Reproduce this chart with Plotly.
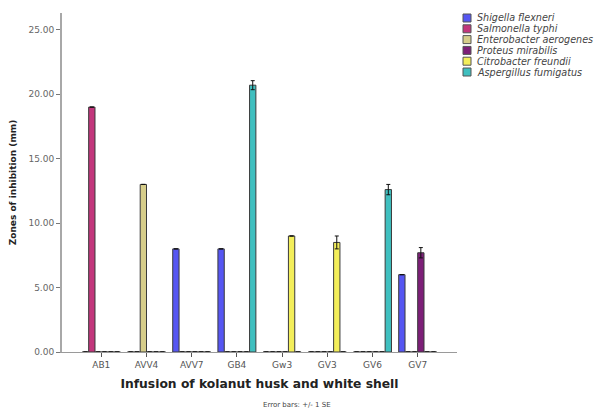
import plotly.graph_objects as go

# Treatment codes (infusions of kolanut husk and white shell)
categories = ["AB1", "AVV4", "AVV7", "GB4", "Gw3", "GV3", "GV6", "GV7"]

# Test organisms, in cluster order
organisms = [
    "Shigella flexneri",
    "Salmonella typhi",
    "Enterobacter aerogenes",
    "Proteus mirabilis",
    "Citrobacter freundii",
    "Aspergillus fumigatus",
]
colors = ["#5656f2", "#c2367c", "#d6cd8a", "#7d1f78", "#f3ee5a", "#3fbfbf"]

# Mean zone of inhibition (mm) per organism, one value per treatment
shigella = [0.0, 0.0, 8.0, 8.0, 0.0, 0.0, 0.0, 6.0]
salmonella = [19.0, 0.0, 0.0, 0.0, 0.0, 0.0, 0.0, 0.0]
enterobacter = [0.0, 13.0, 0.0, 0.0, 0.0, 0.0, 0.0, 0.0]
proteus = [0.0, 0.0, 0.0, 0.0, 0.0, 0.0, 0.0, 7.7]
citrobacter = [0.0, 0.0, 0.0, 0.0, 9.0, 8.5, 0.0, 0.0]
aspergillus = [0.0, 0.0, 0.0, 20.7, 0.0, 0.0, 12.6, 0.0]

# Standard errors (mm)
se_shigella = [0, 0, 0, 0, 0, 0, 0, 0]
se_salmonella = [0, 0, 0, 0, 0, 0, 0, 0]
se_enterobacter = [0, 0, 0, 0, 0, 0, 0, 0]
se_proteus = [0, 0, 0, 0, 0, 0, 0, 0.4]
se_citrobacter = [0, 0, 0, 0, 0, 0.5, 0, 0]
se_aspergillus = [0, 0, 0, 0.35, 0, 0, 0.4, 0]

y_ticks = [0, 5, 10, 15, 20, 25]

means = [shigella, salmonella, enterobacter, proteus, citrobacter, aspergillus]
errors = [se_shigella, se_salmonella, se_enterobacter, se_proteus, se_citrobacter, se_aspergillus]

FONT = "DejaVu Sans, Verdana, sans-serif"

fig = go.Figure()
for name, col, vals, se in zip(organisms, colors, means, errors):
    fig.add_trace(go.Bar(
        name=name,
        x=categories,
        y=vals,
        marker=dict(color=col, line=dict(color="#3a3a3a", width=1)),
        error_y=dict(
            type="data",
            array=[e if e > 0 else None for e in se],
            visible=True,
            color="#111111",
            thickness=1,
            width=2,
        ),
        showlegend=False,
    ))

# Legend: colour swatch + italic organism name, stacked in the right margin
leg_x0, leg_y0, leg_dy = 463, 18, 10.8
for i, (name, col) in enumerate(zip(organisms, colors)):
    yc = leg_y0 + i * leg_dy
    fig.add_shape(
        type="rect", xref="paper", yref="paper",
        x0=(leg_x0 - 62) / 395, x1=(leg_x0 + 8 - 62) / 395,
        y0=1 - (yc - 4 - 13) / 339, y1=1 - (yc + 4 - 13) / 339,
        fillcolor=col, line=dict(color="#555555", width=1),
    )
    fig.add_annotation(
        xref="paper", yref="paper",
        x=(leg_x0 + 12 - 62) / 395, y=1 - (yc - 13) / 339,
        xanchor="left", yanchor="middle", showarrow=False,
        text=f"<i>{name}</i>",
        font=dict(family=FONT, size=9.6, color="#444444"),
    )

fig.add_annotation(
    xref="paper", yref="paper", x=(297 - 62) / 395, y=1 - (405 - 13) / 339,
    xanchor="center", yanchor="middle", showarrow=False,
    text="Error bars: +/- 1 SE",
    font=dict(family=FONT, size=7, color="#444444"),
)

fig.update_layout(
    width=596, height=412,
    margin=dict(l=62, r=139, t=13, b=60),
    paper_bgcolor="white", plot_bgcolor="white",
    barmode="group", bargap=0.16, bargroupgap=0,
    font=dict(family=FONT, color="#555555"),
)
fig.update_xaxes(
    type="category", range=[-0.87, 7.87],
    showline=True, linecolor="#9a9a9a", linewidth=1,
    ticks="outside", ticklen=4, tickcolor="#555555",
    tickfont=dict(size=9, color="#555555"),
    showgrid=False, zeroline=False,
    title=dict(text="<b>Infusion of kolanut husk and white shell</b>",
               font=dict(family=FONT, size=12.3, color="#222222"), standoff=10),
)
fig.update_yaxes(
    range=[0, 26.3], tickvals=y_ticks,
    ticktext=[f"{v:.2f}" for v in y_ticks],
    showline=True, linecolor="#a8a8a8", linewidth=2,
    ticks="outside", ticklen=4, tickcolor="#777777",
    tickfont=dict(size=9, color="#666666"),
    showgrid=False, zeroline=False,
    title=dict(text="<b>Zones of inhibition (mm)</b>",
               font=dict(family=FONT, size=9, color="#222222"), standoff=10),
)

fig.write_html("out.html")
